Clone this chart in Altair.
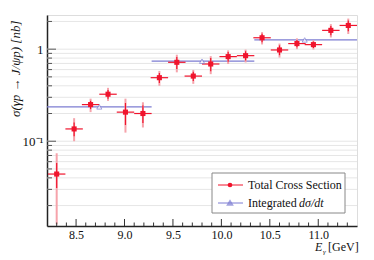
import altair as alt
import pandas as pd

# ---- data ----
energy = [8.30, 8.48, 8.65, 8.83, 9.01, 9.19, 9.36, 9.54, 9.71, 9.89,
          10.07, 10.25, 10.42, 10.60, 10.78, 10.95, 11.13, 11.31]
sigma = [0.044, 0.136, 0.25, 0.324, 0.207, 0.20, 0.49, 0.72, 0.51, 0.69,
         0.83, 0.85, 1.33, 0.98, 1.15, 1.12, 1.60, 1.81]
tot_hi = [0.074, 0.178, 0.29, 0.38, 0.29, 0.265, 0.58, 0.87, 0.595, 0.84,
          0.97, 0.99, 1.53, 1.15, 1.31, 1.25, 1.87, 2.15]
tot_lo = [0.0125, 0.10, 0.207, 0.274, 0.124, 0.141, 0.40, 0.56, 0.42, 0.535,
          0.69, 0.717, 1.125, 0.81, 1.0, 0.99, 1.34, 1.46]
stat_hi = [0.058, 0.16, 0.275, 0.36, 0.26, 0.245, 0.55, 0.82, 0.57, 0.80,
           0.93, 0.95, 1.47, 1.10, 1.26, 1.21, 1.79, 2.05]
stat_lo = [0.031, 0.113, 0.223, 0.29, 0.15, 0.158, 0.43, 0.61, 0.45, 0.575,
           0.73, 0.755, 1.19, 0.86, 1.05, 1.03, 1.42, 1.57]
e_lo = [8.21, 8.39, 8.56, 8.74, 8.92, 9.10, 9.27, 9.45, 9.62, 9.80,
        9.98, 10.16, 10.33, 10.51, 10.69, 10.86, 11.04, 11.22]
e_hi = [8.39, 8.57, 8.74, 8.92, 9.10, 9.28, 9.45, 9.63, 9.80, 9.98,
        10.16, 10.34, 10.51, 10.69, 10.87, 11.04, 11.22, 11.40]

int_energy = [8.74, 9.80, 10.86]
int_lo = [8.20, 9.28, 10.34]
int_hi = [9.28, 10.34, 11.40]
int_sigma = [0.236, 0.74, 1.26]

x_major = [8.5, 9.0, 9.5, 10.0, 10.5, 11.0]
x_minor = [8.3, 8.4, 8.6, 8.7, 8.8, 8.9, 9.1, 9.2, 9.3, 9.4, 9.6, 9.7, 9.8, 9.9,
           10.1, 10.2, 10.3, 10.4, 10.6, 10.7, 10.8, 10.9, 11.1, 11.2, 11.3]
y_major = [0.1, 1.0]
y_minor = [0.02, 0.03, 0.04, 0.05, 0.06, 0.07, 0.08, 0.09,
           0.2, 0.3, 0.4, 0.5, 0.6, 0.7, 0.8, 0.9, 2.0]

legend_labels = ["Total Cross Section", "Integrated dσ/dt"]

FONT = "Liberation Serif"
RED = "#f0142d"
PINK = "#f6a3ab"
BLUE = "#7c7cd2"
W, H = 310, 211

df = pd.DataFrame(dict(e=energy, s=sigma, thi=tot_hi, tlo=tot_lo,
                       shi=stat_hi, slo=stat_lo, elo=e_lo, ehi=e_hi))
dint = pd.DataFrame(dict(e=int_energy, lo=int_lo, hi=int_hi, s=int_sigma))

xs = alt.Scale(domain=[8.2, 11.4], nice=False, zero=False)
ys = alt.Scale(type="log", domain=[0.012, 2.35], nice=False)

grid_vals = sorted(y_minor + y_major)

base = alt.Chart(df)

grid = alt.Chart(pd.DataFrame({"g": grid_vals})).mark_rule(
    color="#e6e6e6", strokeWidth=1).encode(
    y=alt.Y("g:Q", scale=ys,
            axis=alt.Axis(values=y_major, title="σ(γp → J/ψp) [nb]",
                          labelExpr="datum.value == 1 ? '1' : '10⁻¹'",
                          ticks=False, grid=False, labelFontSize=13,
                          labelFont=FONT, titleFont=FONT, labelColor="#111",
                          titleColor="#111",
                          labelPadding=4, titleFontSize=13, titleFontStyle="italic",
                          titleFontWeight="normal", titleAnchor="end",
                          titleX=-38, titleY=5, titleBaseline="top",
                          domainColor="#222", domainWidth=1.5)),
)

xaxis_carrier = alt.Chart(pd.DataFrame({"t": x_major})).mark_rule(
    color=PINK, opacity=0).encode(
    x=alt.X("t:Q", scale=xs,
            axis=alt.Axis(values=x_major, format=".1f", title=None, ticks=False,
                          grid=False, labelFontSize=12, labelPadding=3,
                          labelFont=FONT, labelColor="#111",
                          domainColor="#222", domainWidth=1.5)),
    y=alt.value(0), y2=alt.value(1))

xt_major = alt.Chart(pd.DataFrame({"t": x_major})).mark_rule(color="#333").encode(
    x=alt.X("t:Q", scale=xs), y=alt.value(H), y2=alt.value(H - 7))
xt_minor = alt.Chart(pd.DataFrame({"t": x_minor})).mark_rule(color="#333").encode(
    x=alt.X("t:Q", scale=xs), y=alt.value(H), y2=alt.value(H - 3.5))
yt_major = alt.Chart(pd.DataFrame({"t": y_major})).mark_rule(color="#555").encode(
    y=alt.Y("t:Q", scale=ys), x=alt.value(0), x2=alt.value(9))
yt_minor = alt.Chart(pd.DataFrame({"t": y_minor})).mark_rule(color="#555").encode(
    y=alt.Y("t:Q", scale=ys), x=alt.value(0), x2=alt.value(5))

int_line = alt.Chart(dint).mark_rule(color=BLUE, strokeWidth=1.2).encode(
    x=alt.X("lo:Q", scale=xs), x2="hi:Q", y=alt.Y("s:Q", scale=ys))
int_pts = alt.Chart(dint).mark_point(shape="triangle-up", color=BLUE, filled=False,
                                     size=26, strokeWidth=1, fill="white").encode(
    x=alt.X("e:Q", scale=xs), y=alt.Y("s:Q", scale=ys))

tot_err = base.mark_rule(color=PINK, strokeWidth=2).encode(
    x=alt.X("e:Q", scale=xs), y=alt.Y("tlo:Q", scale=ys), y2="thi:Q")
stat_err = base.mark_rule(color=RED, strokeWidth=1.2).encode(
    x=alt.X("e:Q", scale=xs), y=alt.Y("slo:Q", scale=ys), y2="shi:Q")
x_err = base.mark_rule(color=RED, strokeWidth=1.2).encode(
    x=alt.X("elo:Q", scale=xs), x2="ehi:Q", y=alt.Y("s:Q", scale=ys))
pts = base.mark_square(color=RED, size=26, opacity=1).encode(
    x=alt.X("e:Q", scale=xs), y=alt.Y("s:Q", scale=ys))

lg = pd.DataFrame({"label": legend_labels, "row": [0, 1]})
lx0, lx1, ly0, ly1 = 165, 298, 158, 198
leg_box = alt.Chart(pd.DataFrame({"a": [0]})).mark_rect(
    fill="white", stroke="#888", strokeWidth=1).encode(
    x=alt.value(lx0), x2=alt.value(lx1), y=alt.value(ly0), y2=alt.value(ly1))
leg_line1 = alt.Chart(lg.iloc[[0]]).mark_rule(color=RED).encode(
    x=alt.value(171), x2=alt.value(196), y=alt.value(170))
leg_line2 = alt.Chart(lg.iloc[[1]]).mark_rule(color=BLUE).encode(
    x=alt.value(171), x2=alt.value(196), y=alt.value(188))
leg_pt1 = alt.Chart(lg.iloc[[0]]).mark_circle(color=RED, size=22, opacity=1).encode(
    x=alt.value(183), y=alt.value(170))
leg_pt2 = alt.Chart(lg.iloc[[1]]).mark_point(shape="triangle-up", color=BLUE, size=18,
                                             fill="white", filled=False).encode(
    x=alt.value(183), y=alt.value(188))
leg_txt1 = alt.Chart(lg.iloc[[0]]).mark_text(align="left", baseline="middle", font=FONT,
                                             fontSize=12, color="#111").encode(
    x=alt.value(201), y=alt.value(170), text="label:N")
leg_txt2a = alt.Chart(pd.DataFrame({"t": ["Integrated "]})).mark_text(
    align="left", baseline="middle", font=FONT, fontSize=12, color="#111").encode(
    x=alt.value(201), y=alt.value(188), text="t:N")
leg_txt2b = alt.Chart(pd.DataFrame({"t": ["dσ/dt"]})).mark_text(
    align="left", baseline="middle", font=FONT, fontSize=12, fontStyle="italic",
    color="#111").encode(x=alt.value(252), y=alt.value(188), text="t:N")

xt_E = alt.Chart(pd.DataFrame({"t": ["E"]})).mark_text(
    align="left", baseline="alphabetic", font=FONT, fontSize=12, fontStyle="italic",
    color="#111").encode(x=alt.value(268), y=alt.value(236), text="t:N")
xt_g = alt.Chart(pd.DataFrame({"t": ["γ"]})).mark_text(
    align="left", baseline="alphabetic", font=FONT, fontSize=7, fontStyle="italic",
    color="#111").encode(x=alt.value(276), y=alt.value(239), text="t:N")
xt_u = alt.Chart(pd.DataFrame({"t": ["[GeV]"]})).mark_text(
    align="left", baseline="alphabetic", font=FONT, fontSize=12,
    color="#111").encode(x=alt.value(281), y=alt.value(236), text="t:N")

chart = alt.layer(
    grid, xaxis_carrier, int_line, tot_err, stat_err, x_err, pts, int_pts,
    xt_major, xt_minor, yt_major, yt_minor,
    leg_box, leg_line1, leg_line2, leg_pt1, leg_pt2, leg_txt1, leg_txt2a, leg_txt2b,
    xt_E, xt_g, xt_u,
).properties(
    width=W, height=H,
    autosize=alt.AutoSizeParams(type="none"),
    padding={"left": 39, "top": 7, "right": 9, "bottom": 37},
).configure_view(
    stroke="#8c8c8c", strokeWidth=2.5,
).configure(background="white")

chart.save("out.html", embed_options={"renderer": "svg", "actions": False})
